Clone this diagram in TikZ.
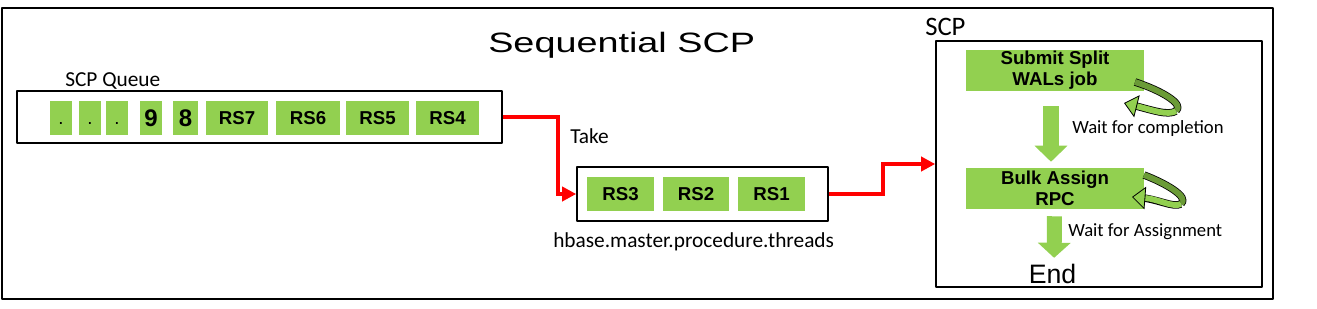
\documentclass[tikz,border=0pt]{standalone}
\usepackage{fontspec}
\setmainfont{Carlito}
\newfontfamily\arialfont{Liberation Sans}
\usepackage{graphicx}
\usepackage{xcolor}
\usepackage{tikz}
\usetikzlibrary{arrows.meta}

\definecolor{cellgreen}{HTML}{92D050}
\definecolor{loopdark}{HTML}{6B9B37}
\definecolor{flowred}{HTML}{FF0000}

\begin{document}
\begin{tikzpicture}[x=0.75pt,y=-0.75pt,>=Stealth,line join=round,
  framebox/.style={draw,line width=1.2pt,inner sep=0pt},
  cell/.style={fill=cellgreen,inner sep=0pt,minimum height=25.5pt,text height=10pt,text depth=0pt,
    font=\arialfont\bfseries\fontsize{14}{16}\selectfont},
  dotcell/.style={cell,minimum width=16.5pt,font=\arialfont\fontsize{14}{16}\selectfont},
  bigcell/.style={cell,text height=13pt,font=\arialfont\bfseries\fontsize{18}{20}\selectfont},
  stepbox/.style={fill=cellgreen,inner sep=0pt,minimum width=133.5pt,minimum height=30.75pt,align=center,
    font=\arialfont\bfseries\fontsize{14}{15.5}\selectfont},
  lbl/.style={anchor=base west,inner sep=0pt,font=\fontsize{16}{18}\selectfont},
  flow/.style={flowred,line width=3pt,line join=miter,-{Triangle[length=10.5pt,width=10.5pt]}},
  fatarrow/.style={cellgreen,line width=12pt,-{Triangle[length=12pt,width=24pt]}},
  loopedge/.style={black,line width=5.6pt},
  loopback/.style={loopdark,line width=4.4pt},
  loopfront/.style={cellgreen,line width=4.4pt,-{Triangle[length=10pt,width=17pt,color=black,fill=cellgreen,line width=0.6pt]}}]
  \useasboundingbox (0,0) rectangle (1317,308);
  \draw[line width=1.5pt] (2,8) rectangle (1273,299);
  \node[anchor=base west,inner sep=0pt,font=\arialfont\fontsize{21}{24}\selectfont] (title) at (488,52) {\scalebox{1.35}[1]{Sequential SCP}};

  % queue
  \node[framebox,minimum width=363.75pt,minimum height=39pt] (queue) at (259.5,117) {};
  \node[lbl] (queuelbl) at (65,86) {SCP Queue};
  \node[dotcell] (dot1) at (61,118) {.};
  \node[dotcell] (dot2) at (90,118) {.};
  \node[dotcell] (dot3) at (117,118) {.};
  \node[bigcell,minimum width=16.5pt] (rs9) at (151,118) {9};
  \node[bigcell,minimum width=18.75pt] (rs8) at (185.5,118) {8};
  \node[cell,minimum width=46.5pt] (rs7) at (237,118) {RS7};
  \node[cell,minimum width=48pt] (rs6) at (308,118) {RS6};
  \node[cell,minimum width=47.25pt] (rs5) at (377.5,118) {RS5};
  \node[cell,minimum width=47.25pt] (rs4) at (447.5,118) {RS4};

  % threads
  \node[framebox,minimum width=188.25pt,minimum height=40.5pt] (threads) at (702.5,194) {};
  \node[cell,minimum width=50.25pt] (rs3) at (620.5,194) {RS3};
  \node[cell,minimum width=49.5pt] (rs2) at (696,194) {RS2};
  \node[cell,minimum width=50.25pt] (rs1) at (771.5,194) {RS1};
  \node[lbl] (threadslbl) at (553,247) {hbase.master.procedure.threads};
  \node[lbl] (takelbl) at (570,143) {Take};

  % scp
  \node[framebox,minimum width=244.5pt,minimum height=184.5pt] (scp) at (1099,164) {};
  \node[lbl,font=\fontsize{20}{22}\selectfont] (scplbl) at (925,35) {SCP};
  \node[stepbox] (submit) at (1055,70.5) {Submit Split\\WALs job};
  \node[stepbox] (bulk) at (1055,188.5) {Bulk Assign\\RPC};
  \node[anchor=base,inner sep=0pt,font=\arialfont\fontsize{20}{22}\selectfont] (endlbl) at (1052.5,283) {End};
  \node[lbl,font=\fontsize{14}{16}\selectfont] (waitlbl) at (1072,133) {Wait for completion};
  \node[lbl,font=\fontsize{14}{16}\selectfont] (assignlbl) at (1068,236) {Wait for Assignment};

  \draw[flow] (queue.east) -- ++(55,0) |- (threads.west);
  \draw[flow] (threads.east) -- ++(54,0) |- (scp.west);
  \draw[fatarrow] ([xshift=-3pt,yshift=-11.25pt]submit.south) -- ([xshift=-3pt,yshift=4.5pt]bulk.north);
  \draw[fatarrow,line width=11.25pt,-{Triangle[length=11.25pt,width=24pt]}] ([xshift=-0.4pt,yshift=-5.25pt]bulk.south) -- ([xshift=1.2pt,yshift=4.2pt]endlbl.north);

  % wait loops
  \draw[loopedge] (1135,82) .. controls (1160,90) and (1185,104) .. (1176,111);
  \draw[loopback] (1135,82) .. controls (1160,90) and (1185,104) .. (1176,111);
  \draw[loopedge,shorten >=6pt] (1176,111) .. controls (1168,116) and (1152,110) .. (1124,103);
  \draw[loopfront] (1176,111) .. controls (1168,116) and (1152,110) .. (1124,103);
  \draw[loopedge] (1144,175) .. controls (1165,183) and (1190,197) .. (1181,204);
  \draw[loopback] (1144,175) .. controls (1165,183) and (1190,197) .. (1181,204);
  \draw[loopedge,shorten >=6pt] (1181,204) .. controls (1173,208) and (1158,199) .. (1132,197);
  \draw[loopfront] (1181,204) .. controls (1173,208) and (1158,199) .. (1132,197);
\end{tikzpicture}
\end{document}
